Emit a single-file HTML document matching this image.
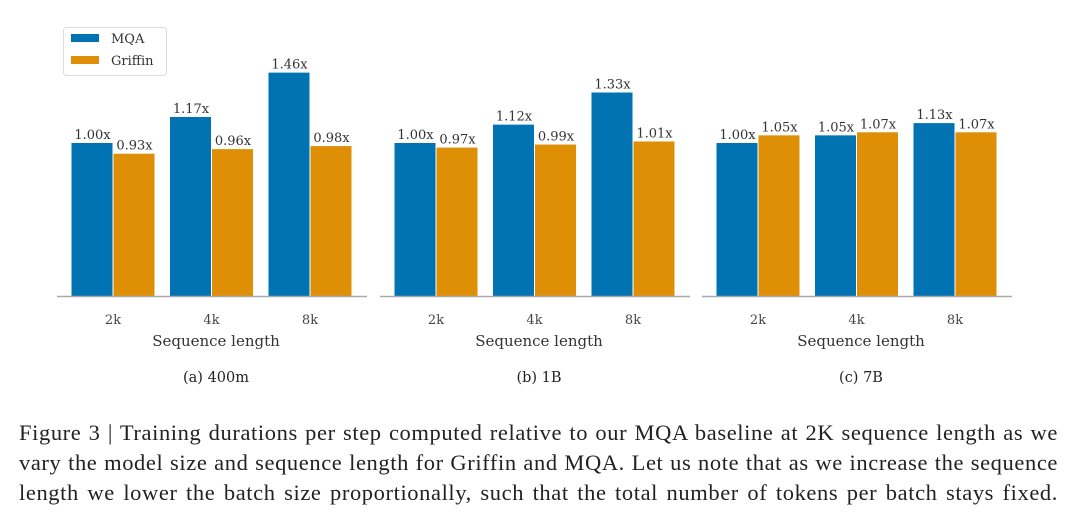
<!DOCTYPE html>
<html><head><meta charset="utf-8"><style>
body{margin:0;background:#fff;width:1080px;height:532px;overflow:hidden}
svg{display:block}
.cap{position:absolute;left:19px;top:418px;width:1039px;font-family:"Liberation Serif",serif;font-size:22.5px;letter-spacing:0.6px;line-height:30px;color:#222}
.cap div{text-align:justify;text-align-last:justify;white-space:nowrap}
</style></head><body>
<svg id="chart" width="1080" height="410" xmlns="http://www.w3.org/2000/svg" font-family="DejaVu Serif, serif"></svg>
<div class="cap">
<div>Figure 3 | Training durations per step computed relative to our MQA baseline at 2K sequence length as we</div>
<div>vary the model size and sequence length for Griffin and MQA. Let us note that as we increase the sequence</div>
<div>length we lower the batch size proportionally, such that the total number of tokens per batch stays fixed.</div>
</div>
<script>
const categories=["2k","4k","8k"];
const panels=["(a)  400m","(b)  1B","(c)  7B"];
const mqa=[[1.00,1.17,1.46],[1.00,1.12,1.33],[1.00,1.05,1.13]];
const griffin=[[0.93,0.96,0.98],[0.97,0.99,1.01],[1.05,1.07,1.07]];
const svg=document.getElementById('chart');
const NS='http://www.w3.org/2000/svg';
function mk(t,a,txt){const e=document.createElementNS(NS,t);for(const k in a)e.setAttribute(k,a[k]);if(txt!==undefined)e.textContent=txt;svg.appendChild(e);return e;}
const base=296,scale=153;
const y=v=>base-v*scale;
const axL=[57,380,702],axW=310,step=98.5,bw=41;
panels.forEach((p,pi)=>{
  const x0=axL[pi];
  const cx=i=>x0+56+i*step;
  categories.forEach((c,i)=>{
    const r1=mk('rect',{x:cx(i)-bw-0.5,y:y(mqa[pi][i]),width:bw,height:mqa[pi][i]*scale,fill:'#0173b2'});
    
    
    const r2=mk('rect',{x:cx(i)+0.5,y:y(griffin[pi][i]),width:bw,height:griffin[pi][i]*scale,fill:'#de8f05'});
    
    
    const t1=mk('text',{x:cx(i)-bw/2,y:y(mqa[pi][i])-4,'text-anchor':'middle','font-size':13,fill:'#333'},mqa[pi][i].toFixed(2)+'x');
    
    
    const t2=mk('text',{x:cx(i)+bw/2+1,y:y(griffin[pi][i])-4,'text-anchor':'middle','font-size':13,fill:'#333'},griffin[pi][i].toFixed(2)+'x');
    
    
    const tl=mk('text',{x:cx(i),y:324,'text-anchor':'middle','font-size':13,fill:'#444'},c);
    
    
  });
  const ax=mk('line',{x1:x0,x2:x0+axW,y1:base+0.5,y2:base+0.5,stroke:'#aaa','stroke-width':1.5});
  
  
  const xt=mk('text',{x:x0+axW/2+4,y:346,'text-anchor':'middle','font-size':15,fill:'#333'},'Sequence length');
  
  
  const pt=mk('text',{x:x0+axW/2+4,y:382,'text-anchor':'middle','font-size':14.5,fill:'#222','xml:space':'preserve'},p);
  
  
});
const lg=mk('rect',{x:63.5,y:27.5,width:103,height:48,rx:3,fill:'#fff',stroke:'#ddd'});


mk('rect',{x:71,y:34,width:28,height:8,fill:'#0173b2'});
mk('rect',{x:71,y:56,width:28,height:8,fill:'#de8f05'});
const l1=mk('text',{x:111,y:43,'font-size':13,fill:'#333'},'MQA');


const l2=mk('text',{x:111,y:65,'font-size':13,fill:'#333'},'Griffin');


</script>
</body></html>
